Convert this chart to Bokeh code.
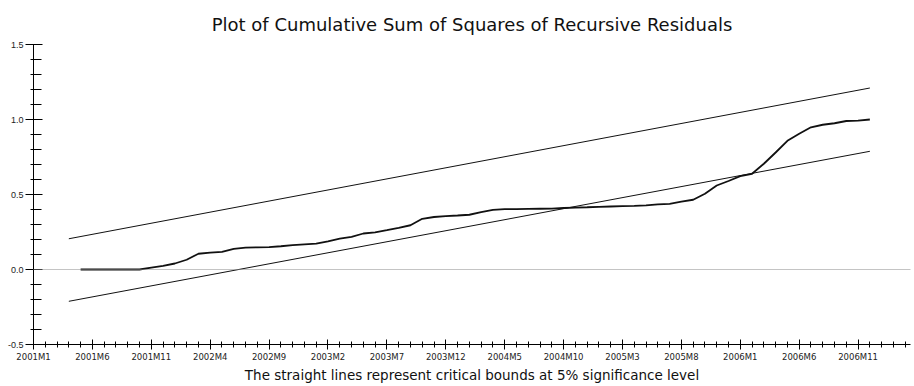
from bokeh.plotting import figure
from bokeh.models import Range1d, FixedTicker, PrintfTickFormatter, Span, ColumnDataSource
from bokeh.embed import file_html
from bokeh.resources import INLINE

# ---- data ----
months = [f"{y}M{m}" for y in range(2001, 2008) for m in range(1, 13)][:75]
tick_labels = ["2001M1", "2001M6", "2001M11", "2002M4", "2002M9", "2003M2", "2003M7",
               "2003M12", "2004M5", "2004M10", "2005M3", "2005M8", "2006M1", "2006M6",
               "2006M11"]
cusumsq_start = "2001M5"
cusumsq = [0.0, 0.0, 0.0, 0.0, 0.0, 0.0, 0.012, 0.024, 0.040, 0.065,
           0.105, 0.112, 0.118, 0.138, 0.146, 0.148, 0.149, 0.155, 0.163, 0.168,
           0.172, 0.187, 0.206, 0.218, 0.240, 0.247, 0.262, 0.278, 0.295, 0.338,
           0.350, 0.356, 0.360, 0.365, 0.382, 0.397, 0.402, 0.403, 0.404, 0.405,
           0.406, 0.410, 0.413, 0.415, 0.418, 0.420, 0.422, 0.424, 0.428, 0.434,
           0.438, 0.452, 0.465, 0.505, 0.560, 0.590, 0.622, 0.638, 0.705, 0.780,
           0.858, 0.905, 0.948, 0.965, 0.975, 0.990, 0.992, 1.000]
bound_months = ["2001M4", "2006M12"]
upper_bound = [0.205, 1.210]
lower_bound = [-0.212, 0.788]
y_ticks = [-0.5, 0.0, 0.5, 1.0, 1.5]

# ---- derived positions ----
start = months.index(cusumsq_start)
cs_x = list(range(start, start + len(cusumsq)))
b_x = [months.index(m) for m in bound_months]
tick_x = [months.index(t) for t in tick_labels]

p = figure(width=914, height=386, output_backend="svg", toolbar_location=None,
           x_range=Range1d(0, 74.45), y_range=Range1d(-0.5, 1.5),
           min_border_left=33, min_border_right=4, min_border_top=44,
           min_border_bottom=42)
p.outline_line_color = None
p.xgrid.visible = False
p.ygrid.visible = False
p.background_fill_color = "white"
p.border_fill_color = "white"

p.title.text = "Plot of Cumulative Sum of Squares of Recursive Residuals"
p.title.align = "center"
p.title.text_font = "DejaVu Sans"
p.title.text_font_size = "18px"
p.title.text_font_style = "normal"
p.title.text_color = "#111111"
p.title.standoff = 20

p.add_layout(Span(location=0, dimension="width", line_color="#888888",
                  line_width=1, line_dash="1 1"))

p.line(b_x, upper_bound, line_color="#111111", line_width=1)
p.line(b_x, lower_bound, line_color="#111111", line_width=1)
p.line(cs_x, cusumsq, line_color="#111111", line_width=1.8)

# y axis
ya = p.yaxis[0]
ya.ticker = FixedTicker(ticks=y_ticks,
                        minor_ticks=[round(-0.5 + 0.1 * i, 1) for i in range(21)])
ya.formatter = PrintfTickFormatter(format="%.1f")
ya.major_tick_in = 9
ya.major_tick_out = 8
ya.minor_tick_in = 8
ya.minor_tick_out = 3
ya.major_label_standoff = 2
ya.major_label_text_font = "Liberation Sans"
ya.major_label_text_font_size = "9px"
ya.major_label_text_color = "#222222"
ya.axis_line_color = "black"
ya.major_tick_line_color = "black"
ya.minor_tick_line_color = "black"

# x axis
xa = p.xaxis[0]
xa.ticker = FixedTicker(ticks=tick_x, minor_ticks=list(range(len(months))))
xa.major_label_overrides = {x: t for x, t in zip(tick_x, tick_labels)}
xa.major_tick_in = 5
xa.major_tick_out = 5
xa.minor_tick_in = 3
xa.minor_tick_out = 3
xa.major_label_standoff = 2
xa.major_label_text_font = "DejaVu Sans"
xa.major_label_text_font_size = "8.5px"
xa.major_label_text_color = "#222222"
xa.axis_line_color = "black"
xa.major_tick_line_color = "black"
xa.minor_tick_line_color = "black"
xa.axis_label = "The straight lines represent critical bounds at 5% significance level"
xa.axis_label_text_font = "DejaVu Sans"
xa.axis_label_text_font_size = "13.5px"
xa.axis_label_text_font_style = "normal"
xa.axis_label_text_color = "#111111"
xa.axis_label_standoff = 2

open("out.html", "w").write(file_html(p, INLINE))
